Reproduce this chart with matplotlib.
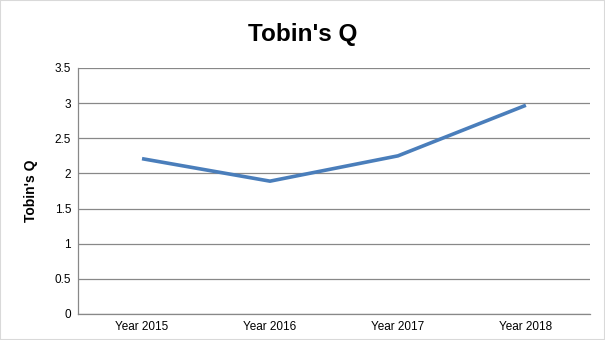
import matplotlib.pyplot as plt
from matplotlib.patches import Rectangle

years = ["Year 2015", "Year 2016", "Year 2017", "Year 2018"]
tobins_q = [2.21, 1.89, 2.25, 2.97]
y_ticks = [0, 0.5, 1, 1.5, 2, 2.5, 3, 3.5]
y_tick_labels = ["0", "0.5", "1", "1.5", "2", "2.5", "3", "3.5"]

plt.rcParams['font.family'] = ['Liberation Sans', 'DejaVu Sans']

fig = plt.figure(figsize=(6.05, 3.4), dpi=100)
ax = fig.add_axes([0.129, 0.0765, 0.846, 0.7235])

x = list(range(len(years)))
ax.plot(x, tobins_q, color='#4a7ebb', linewidth=2.6, solid_capstyle='butt')

ax.set_xlim(-0.5, len(years) - 0.5)
ax.set_ylim(0, 3.5)
ax.set_xticks(x)
ax.set_xticklabels(years, fontsize=8.5)
ax.set_yticks(y_ticks)
ax.set_yticklabels(y_tick_labels, fontsize=8.5)
ax.tick_params(length=0, pad=5)
ax.grid(axis='y', color='#888888', linewidth=0.9)
ax.set_axisbelow(True)

for s in ['top', 'right']:
    ax.spines[s].set_visible(False)
for s in ['left', 'bottom']:
    ax.spines[s].set_color('#888888')
    ax.spines[s].set_linewidth(0.9)

ax.set_ylabel("Tobin's Q", fontsize=10, fontweight='bold', labelpad=12)
fig.text(0.5, 0.9, "Tobin's Q", ha='center', va='center', fontsize=17.5, fontweight='bold')

# light frame around the whole picture
fig.patches.append(Rectangle((0, 0), 1, 1, transform=fig.transFigure,
                             fill=False, edgecolor='#d9d9d9', linewidth=1.5))

fig.savefig("out.png", dpi=100)
